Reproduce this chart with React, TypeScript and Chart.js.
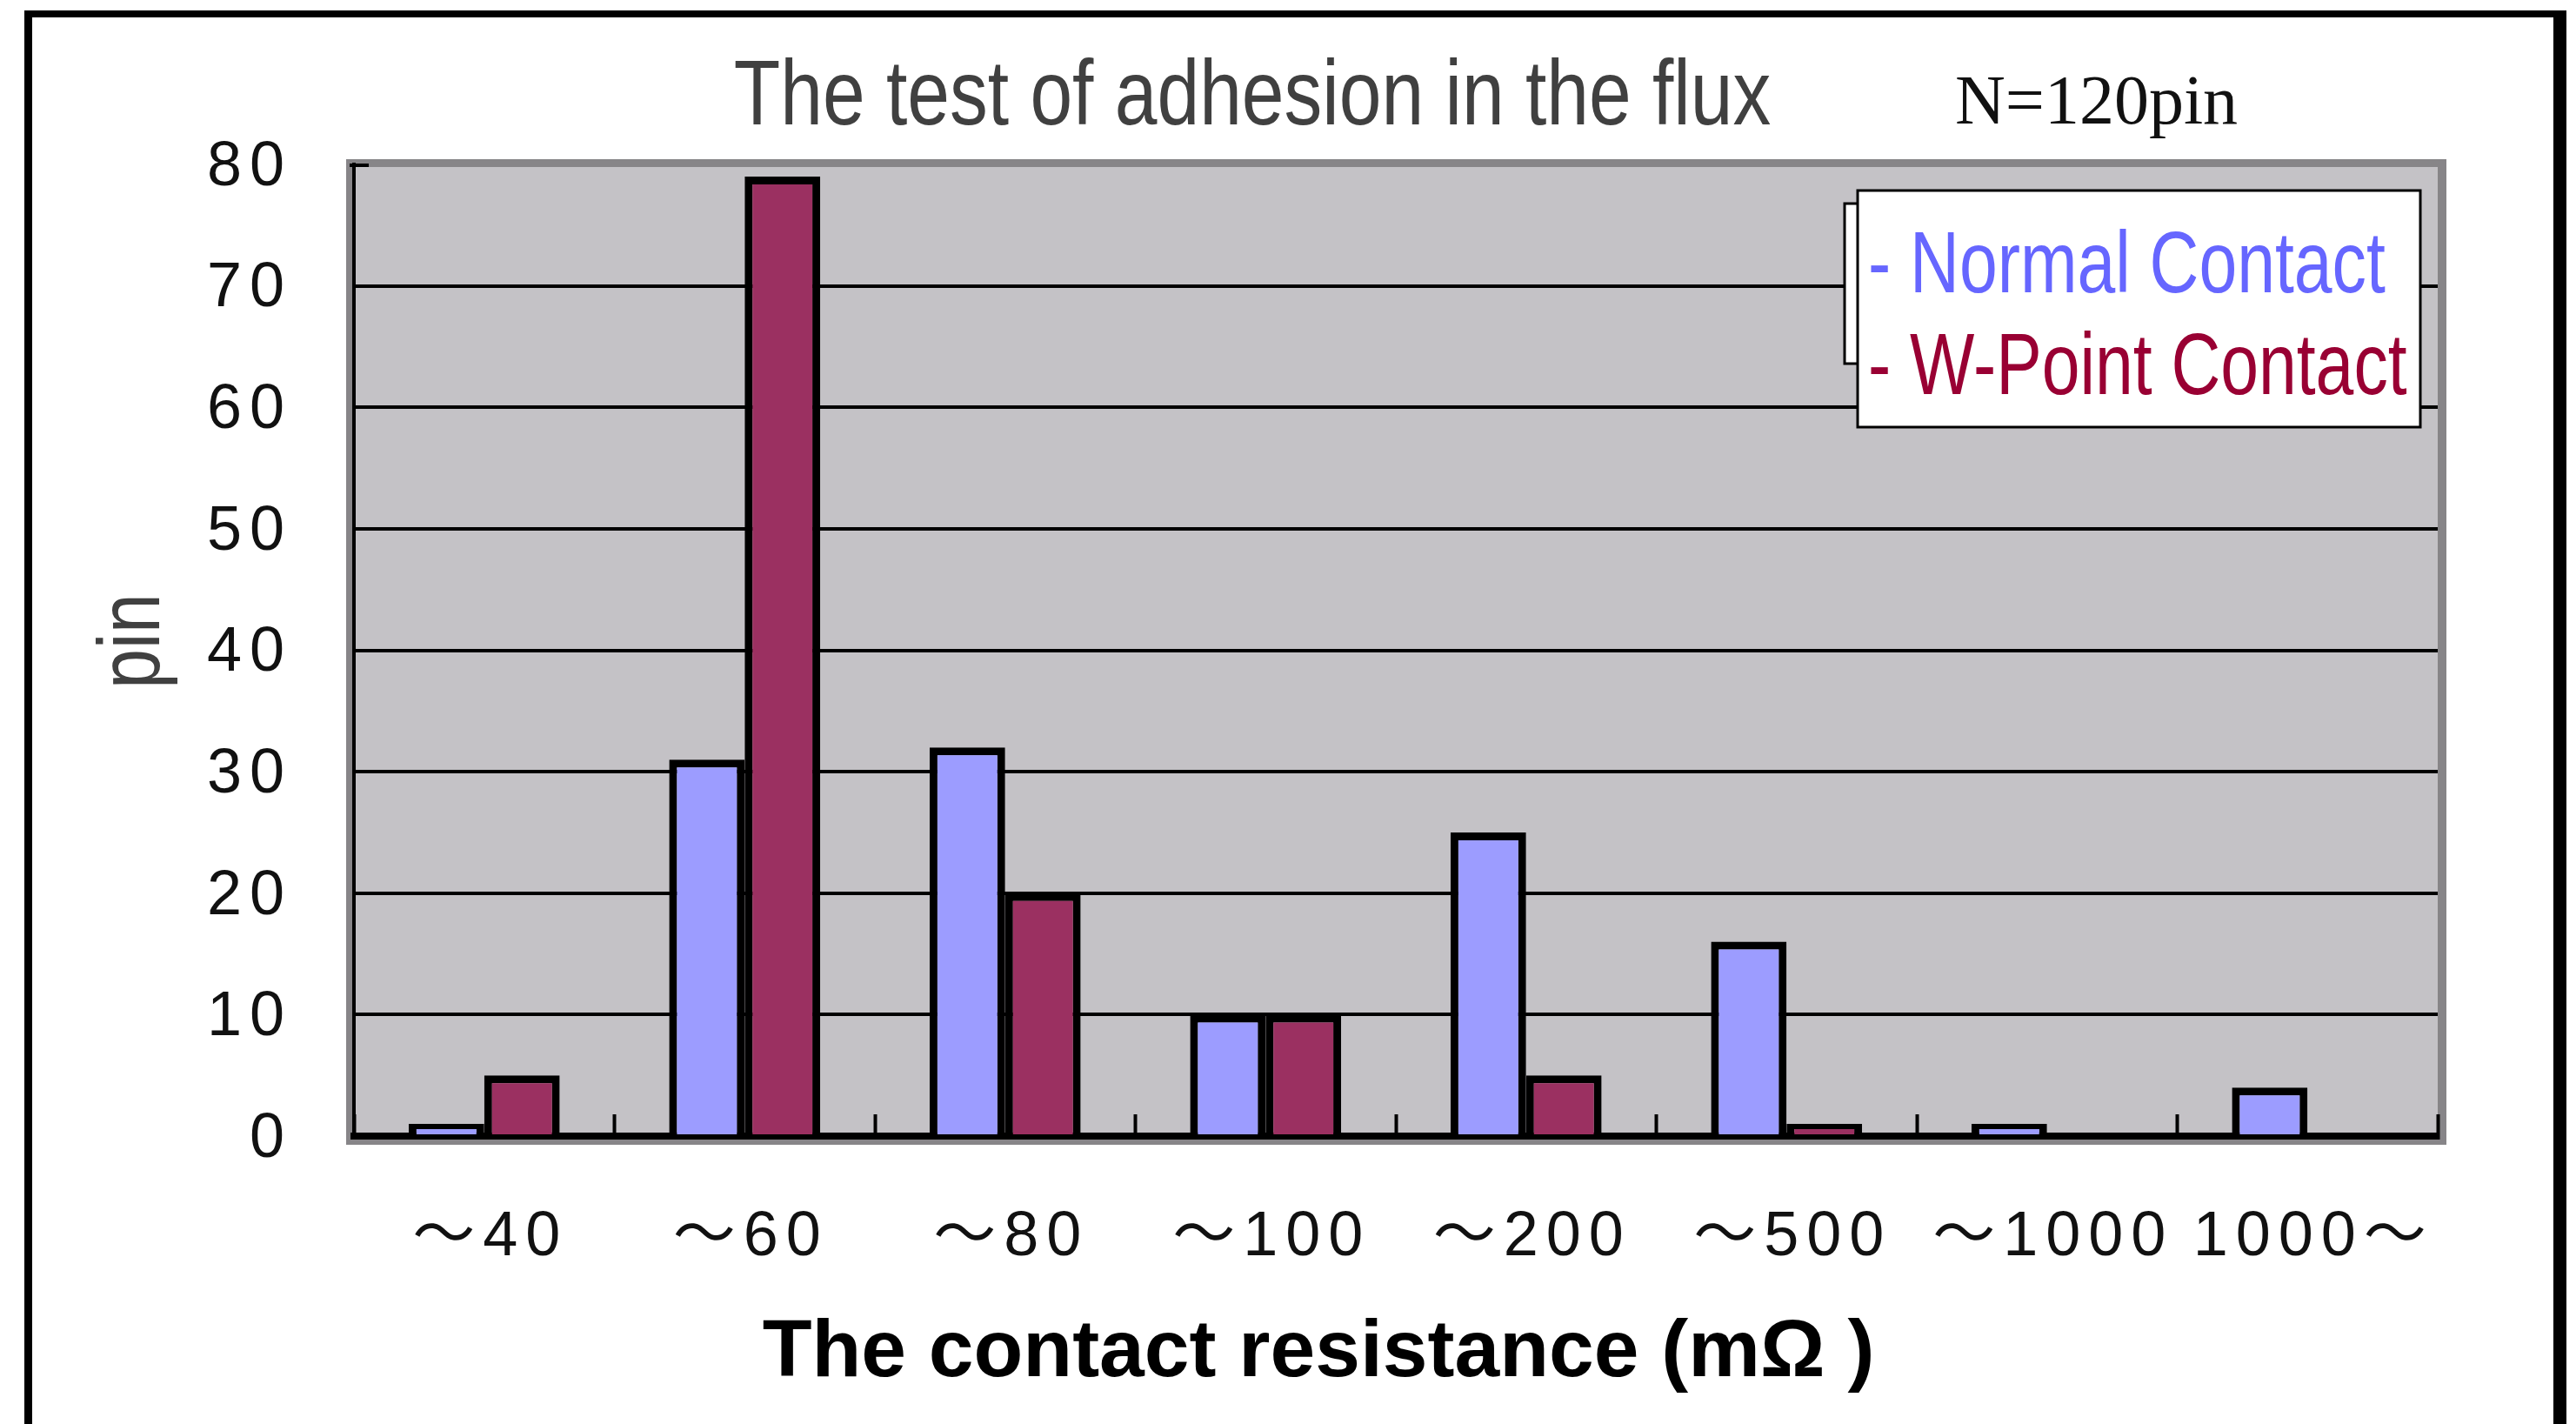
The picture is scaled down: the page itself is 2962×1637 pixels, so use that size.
import React, { useEffect, useRef } from 'react';
import { Chart, registerables } from 'chart.js';

Chart.register(...registerables);

// ---- data ----
const categories = ['～40', '～60', '～80', '～100', '～200', '～500', '～1000', '1000～'];
const normalContact = [1, 31, 32, 10, 25, 16, 1, 4];
const wPointContact = [5, 79, 20, 10, 5, 1, 0, 0];
const seriesLabels = ['Normal Contact', 'W-Point Contact'];
const yMin = 0;
const yMax = 80;
const yStep = 10;
const chartTitle = 'The test of adhesion in the flux';
const sampleNote = 'N=120pin';
const xTitle = 'The contact resistance (mΩ )';
const yTitle = 'pin';

// ---- styles ----
const W = 2962;
const H = 1637;
const SANS = "'Liberation Sans', 'Noto Sans CJK JP', sans-serif";
const SERIF = "'Liberation Serif', 'DejaVu Serif', serif";
const legendColors = ['#6666ff', '#990033'];

function narrowText(ctx: any, text: string, x: number, y: number, size: number, color: string, align: string, sx: number, rotate = 0) {
  ctx.save();
  ctx.translate(x, y);
  if (rotate) ctx.rotate(rotate);
  ctx.scale(sx, 1);
  ctx.font = `${size}px ${SANS}`;
  ctx.fillStyle = color;
  ctx.textAlign = align;
  ctx.textBaseline = 'alphabetic';
  ctx.fillText(text, 0, 0);
  ctx.restore();
}

const decorPlugin = {
  id: 'decor',
  beforeDraw(chart: any) {
    const { ctx, chartArea: a } = chart;
    ctx.save();
    ctx.fillStyle = '#878588';
    ctx.fillRect(a.left - 9, a.top - 6, a.right - a.left + 19, a.bottom - a.top + 16);
    ctx.fillStyle = '#c4c2c6';
    ctx.fillRect(a.left, a.top + 3, a.right - a.left, a.bottom - a.top - 3);
    ctx.restore();
    // wider digit spacing for the axis tick labels
    if ('letterSpacing' in ctx) ctx.letterSpacing = '9px';
  },
  afterDatasetsDraw(chart: any) {
    const { ctx, chartArea: a } = chart;
    if ('letterSpacing' in ctx) ctx.letterSpacing = '0px';
    ctx.save();
    // small corner tick at top of value axis
    ctx.fillStyle = '#000';
    ctx.fillRect(a.left - 5, a.top - 1, 22, 4);
    // small box behind legend
    ctx.fillStyle = '#ffffff';
    ctx.fillRect(2121, 234, 30, 184);
    ctx.strokeStyle = '#000';
    ctx.lineWidth = 3;
    ctx.strokeRect(2121, 234, 30, 184);
    // legend box
    ctx.fillStyle = '#ffffff';
    ctx.fillRect(2136, 219, 647, 272);
    ctx.lineWidth = 3;
    ctx.strokeRect(2136, 219, 647, 272);
    ctx.restore();
    chart.data.datasets.forEach((ds: any, i: number) => {
      narrowText(ctx, `- ${ds.label}`, 2148, 336 + i * 117, 100, legendColors[i], 'left', 0.787);
    });
    // chart title
    narrowText(ctx, chartTitle, 1440, 143, 106, '#404040', 'center', 0.826);
    // y axis title
    narrowText(ctx, yTitle, 183, 737, 100, '#404040', 'center', 0.82, -Math.PI / 2);
    ctx.save();
    // sample note
    ctx.fillStyle = '#111';
    ctx.textAlign = 'left';
    ctx.textBaseline = 'alphabetic';
    ctx.font = `80px ${SERIF}`;
    ctx.fillText(sampleNote, 2248, 142);
    // x axis title
    ctx.font = `bold 93px ${SANS}`;
    ctx.textAlign = 'center';
    ctx.fillStyle = '#000';
    ctx.fillText(xTitle, 1516, 1582);
    ctx.restore();
  },
};

export default function App() {
  const ref = useRef<HTMLCanvasElement | null>(null);

  useEffect(() => {
    if (!ref.current) return;
    const chart = new Chart(ref.current, {
      type: 'bar',
      data: {
        labels: categories,
        datasets: [
          {
            label: seriesLabels[0],
            data: normalContact,
            backgroundColor: '#9c9cff',
            borderColor: '#000000',
            borderWidth: 9,
            barPercentage: 1,
            categoryPercentage: 0.58,
          },
          {
            label: seriesLabels[1],
            data: wPointContact,
            backgroundColor: '#9b3061',
            borderColor: '#000000',
            borderWidth: 9,
            barPercentage: 1,
            categoryPercentage: 0.58,
          },
        ],
      },
      options: {
        responsive: false,
        animation: false,
        devicePixelRatio: 1,
        layout: { padding: { left: 88, right: W - 2803, top: 189, bottom: 0 } },
        plugins: {
          legend: { display: false },
          tooltip: { enabled: false },
          title: { display: false },
        },
        scales: {
          x: {
            offset: true,
            grid: {
              display: true,
              drawOnChartArea: false,
              drawTicks: true,
              tickLength: -25,
              tickWidth: 4,
              tickColor: '#000',
              offset: true,
            },
            border: { display: true, color: '#000', width: 8 },
            ticks: {
              color: '#111',
              font: { family: SANS, size: 72 },
              padding: 99,
              labelOffset: 7,
              maxRotation: 0,
              minRotation: 0,
              autoSkip: false,
            },
            afterFit(scale: any) {
              scale.height = H - 1306;
            },
          },
          y: {
            min: yMin,
            max: yMax,
            grid: {
              color: (c: any) => (c.tick && c.tick.value === yMax ? 'rgba(0,0,0,0)' : '#000'),
              lineWidth: 4,
              drawTicks: false,
            },
            border: { display: true, color: '#000', width: 4 },
            ticks: {
              stepSize: yStep,
              color: '#111',
              font: { family: SANS, size: 72 },
              padding: 71,
              labelOffset: 4,
            },
            afterFit(scale: any) {
              scale.width = 407 - 88;
            },
          },
        },
      },
      plugins: [decorPlugin],
    } as any);
    return () => chart.destroy();
  }, []);

  return (
    <div style={{ position: 'fixed', left: 0, top: 0, width: W, height: H, background: '#fff', overflow: 'hidden' }}>
      <div
        style={{
          position: 'absolute',
          left: 28,
          top: 12,
          width: 2951 - 28,
          height: 1700,
          boxSizing: 'border-box',
          borderLeft: '9px solid #000',
          borderTop: '8px solid #000',
          borderRight: '15px solid #000',
        }}
      />
      <canvas ref={ref} width={W} height={H} style={{ position: 'absolute', left: 0, top: 0, width: W, height: H }} />
    </div>
  );
}
